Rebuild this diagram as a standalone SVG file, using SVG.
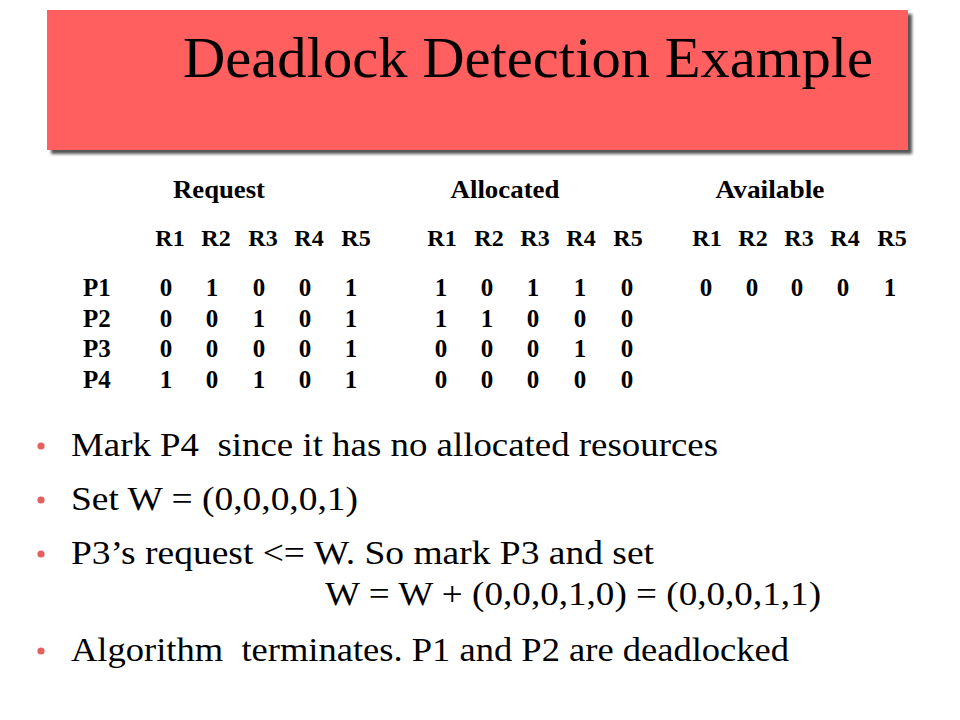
<svg xmlns="http://www.w3.org/2000/svg" width="960" height="720" viewBox="0 0 960 720" font-family="'Liberation Serif', 'Times New Roman', Times, serif">
  <defs>
    <filter id="blur" x="-5%" y="-5%" width="110%" height="120%">
      <feGaussianBlur stdDeviation="1.5"/>
    </filter>
  </defs>
  <style>
    text { font-family: 'Liberation Serif', 'Times New Roman', Times, serif; fill: #000; }
    .title { font-size: 58px; }
    .hdr { font-weight: bold; font-size: 25px; text-anchor: middle; }
    .col { font-weight: bold; font-size: 24px; text-anchor: middle; }
    .cell { font-weight: bold; font-size: 25px; text-anchor: middle; }
    .row { font-weight: bold; font-size: 25px; }
    .bul { font-size: 34px; white-space: pre; }
    .dot { fill: #E65F5F; }
  </style>
  <rect width="960" height="720" fill="#FFFFFF"/>

  <g id="title-box">
    <rect x="51" y="14" width="861" height="140" fill="#555555" filter="url(#blur)"/>
    <rect x="47" y="10" width="861" height="140" fill="#FF5F5F"/>
    <text class="title" x="183" y="77" textLength="690" lengthAdjust="spacingAndGlyphs">Deadlock Detection Example</text>
  </g>

  <g id="table-headers">
    <text class="hdr" x="219" y="198" textLength="92" lengthAdjust="spacingAndGlyphs">Request</text>
    <text class="hdr" x="505" y="198" textLength="109" lengthAdjust="spacingAndGlyphs">Allocated</text>
    <text class="hdr" x="770" y="198" textLength="109" lengthAdjust="spacingAndGlyphs">Available</text>
  </g>

  <g id="resource-columns">
    <text class="col" x="170" y="246">R1</text>
    <text class="col" x="216" y="246">R2</text>
    <text class="col" x="263" y="246">R3</text>
    <text class="col" x="309" y="246">R4</text>
    <text class="col" x="356" y="246">R5</text>
    <text class="col" x="442" y="246">R1</text>
    <text class="col" x="489" y="246">R2</text>
    <text class="col" x="535" y="246">R3</text>
    <text class="col" x="581" y="246">R4</text>
    <text class="col" x="628" y="246">R5</text>
    <text class="col" x="707" y="246">R1</text>
    <text class="col" x="753" y="246">R2</text>
    <text class="col" x="799" y="246">R3</text>
    <text class="col" x="845" y="246">R4</text>
    <text class="col" x="892" y="246">R5</text>
  </g>

  <g id="process-labels">
    <text class="row" x="83" y="296">P1</text>
    <text class="row" x="83" y="327">P2</text>
    <text class="row" x="83" y="357">P3</text>
    <text class="row" x="83" y="388">P4</text>
  </g>

  <g id="request-matrix">
    <text class="cell" x="166" y="296">0</text><text class="cell" x="212" y="296">1</text><text class="cell" x="259" y="296">0</text><text class="cell" x="305" y="296">0</text><text class="cell" x="351" y="296">1</text>
    <text class="cell" x="166" y="327">0</text><text class="cell" x="212" y="327">0</text><text class="cell" x="259" y="327">1</text><text class="cell" x="305" y="327">0</text><text class="cell" x="351" y="327">1</text>
    <text class="cell" x="166" y="357">0</text><text class="cell" x="212" y="357">0</text><text class="cell" x="259" y="357">0</text><text class="cell" x="305" y="357">0</text><text class="cell" x="351" y="357">1</text>
    <text class="cell" x="166" y="388">1</text><text class="cell" x="212" y="388">0</text><text class="cell" x="259" y="388">1</text><text class="cell" x="305" y="388">0</text><text class="cell" x="351" y="388">1</text>
  </g>

  <g id="allocated-matrix">
    <text class="cell" x="441" y="296">1</text><text class="cell" x="487" y="296">0</text><text class="cell" x="533" y="296">1</text><text class="cell" x="580" y="296">1</text><text class="cell" x="627" y="296">0</text>
    <text class="cell" x="441" y="327">1</text><text class="cell" x="487" y="327">1</text><text class="cell" x="533" y="327">0</text><text class="cell" x="580" y="327">0</text><text class="cell" x="627" y="327">0</text>
    <text class="cell" x="441" y="357">0</text><text class="cell" x="487" y="357">0</text><text class="cell" x="533" y="357">0</text><text class="cell" x="580" y="357">1</text><text class="cell" x="627" y="357">0</text>
    <text class="cell" x="441" y="388">0</text><text class="cell" x="487" y="388">0</text><text class="cell" x="533" y="388">0</text><text class="cell" x="580" y="388">0</text><text class="cell" x="627" y="388">0</text>
  </g>

  <g id="available-vector">
    <text class="cell" x="706" y="296">0</text><text class="cell" x="752" y="296">0</text><text class="cell" x="797" y="296">0</text><text class="cell" x="843" y="296">0</text><text class="cell" x="890" y="296">1</text>
  </g>

  <g id="bullets">
    <circle class="dot" cx="41" cy="446" r="3.6"/>
    <text class="bul" x="71" y="456" textLength="647" lengthAdjust="spacingAndGlyphs">Mark P4  since it has no allocated resources</text>
    <circle class="dot" cx="41" cy="500" r="3.6"/>
    <text class="bul" x="71" y="510" textLength="287" lengthAdjust="spacingAndGlyphs">Set W = (0,0,0,0,1)</text>
    <circle class="dot" cx="41" cy="554" r="3.6"/>
    <text class="bul" x="71" y="564" textLength="583" lengthAdjust="spacingAndGlyphs">P3’s request &lt;= W. So mark P3 and set</text>
    <text class="bul" x="325" y="605" textLength="496" lengthAdjust="spacingAndGlyphs">W = W + (0,0,0,1,0) = (0,0,0,1,1)</text>
    <circle class="dot" cx="41" cy="651" r="3.6"/>
    <text class="bul" x="71" y="661" textLength="718" lengthAdjust="spacingAndGlyphs">Algorithm  terminates. P1 and P2 are deadlocked</text>
  </g>
</svg>
